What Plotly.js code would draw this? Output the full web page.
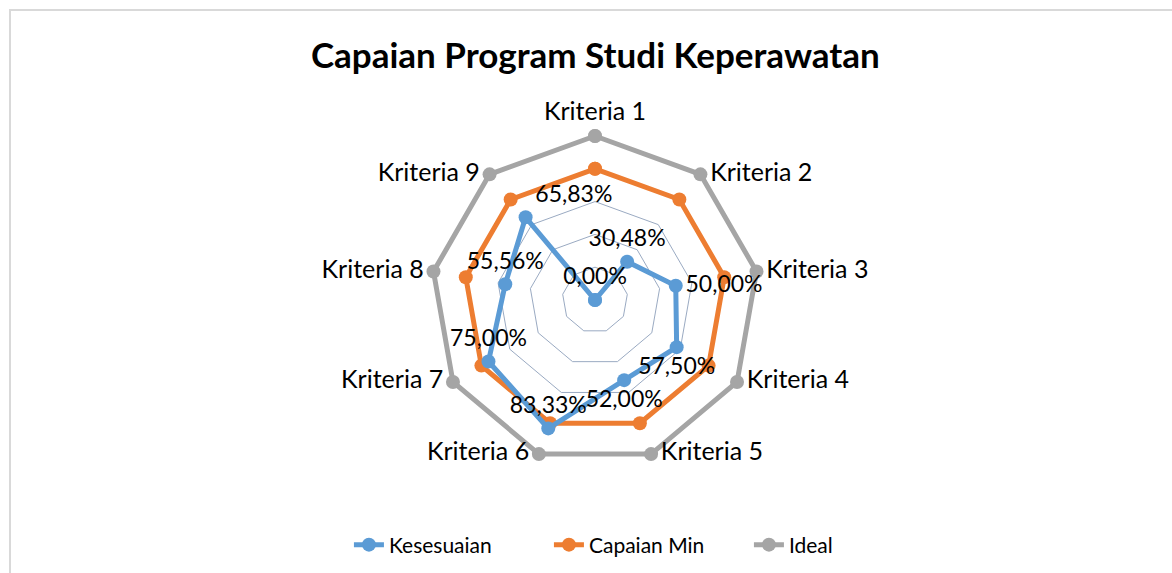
<!DOCTYPE html>
<html>
<head>
<meta charset="utf-8">
<script src="https://cdn.plot.ly/plotly-3.0.1.min.js"></script>
<style>
  html, body { margin: 0; padding: 0; background: #ffffff; overflow: hidden; }
  #chart { width: 1172px; height: 573px; position: absolute; left: 0; top: 0; }
  #frame { position: absolute; left: 9px; top: 9px; width: 1300px; height: 700px;
           border-left: 2px solid #d9d9d9; border-top: 2px solid #d9d9d9; pointer-events: none; }
</style>
</head>
<body>
<div id="chart"></div>
<div id="frame"></div>
<script>
const categories = ["Kriteria 1","Kriteria 2","Kriteria 3","Kriteria 4","Kriteria 5","Kriteria 6","Kriteria 7","Kriteria 8","Kriteria 9"];
const kesesuaian = [0.0000, 0.3048, 0.5000, 0.5750, 0.5200, 0.8333, 0.7500, 0.5556, 0.6583];
const capaianMin = [0.8, 0.8, 0.8, 0.8, 0.8, 0.8, 0.8, 0.8, 0.8];
const ideal = [1, 1, 1, 1, 1, 1, 1, 1, 1];
const seriesNames = ["Kesesuaian", "Capaian Min", "Ideal"];
const colors = ["#5b9bd5", "#ed7d31", "#a5a5a5"];
const labelPositions = ["top center","top center","middle right","bottom center","bottom center","top center","top center","top center","top right"];
const categoryLabelPositions = ["top center","middle right","middle right","middle right","middle right","middle left","middle left","middle left","middle left"];

function fmt(v) {
  return (v * 100).toFixed(2).replace(".", ",") + "%";
}
function closed(a) { return a.concat([a[0]]); }
function openText(a) { return closed(a).map((t, i) => i < a.length ? t : ""); }

const font = "Lato, 'Open Sans', sans-serif";

const traces = [
  {
    type: "scatterpolar", name: seriesNames[2], subplot: "polar",
    r: closed(ideal), theta: closed(categories),
    mode: "lines+markers+text",
    cliponaxis: false,
    text: openText(categories),
    textposition: closed(categoryLabelPositions),
    textfont: { family: font, size: 25, color: "#000000" },
    line: { color: colors[2], width: 5 },
    marker: { color: colors[2], size: 14 },
    hoverinfo: "skip"
  },
  {
    type: "scatterpolar", name: seriesNames[1], subplot: "polar",
    r: closed(capaianMin), theta: closed(categories),
    mode: "lines+markers",
    cliponaxis: false,
    line: { color: colors[1], width: 5 },
    marker: { color: colors[1], size: 14 },
    hoverinfo: "skip"
  },
  {
    type: "scatterpolar", name: seriesNames[0], subplot: "polar2",
    r: closed(kesesuaian), theta: closed(categories),
    mode: "lines+markers+text",
    cliponaxis: false,
    text: openText(kesesuaian.map(fmt)),
    textposition: closed(labelPositions),
    textfont: { family: font, size: 23, color: "#000000" },
    line: { color: colors[0], width: 5 },
    marker: { color: colors[0], size: 14 },
    hoverinfo: "skip"
  }
];

const W = 1172, H = 573;
const cx = 595, cy = 300;
const rMin = 0, rMax = 1.05;
const R = 164 * (rMax - rMin) / (1 - rMin);
const domain = { x: [(cx - R) / W, (cx + R) / W], y: [(H - cy - R) / H, (H - cy + R) / H] };

const layout = {
  width: W, height: H,
  margin: { l: 0, r: 0, t: 0, b: 0 },
  paper_bgcolor: "#ffffff",
  plot_bgcolor: "#ffffff",
  showlegend: true,
  title: {
    text: "<b>Capaian Program Studi Keperawatan</b>",
    font: { family: font, size: 35, color: "#000000" },
    x: 0.508, xanchor: "center",
    y: 1 - 56 / H, yanchor: "middle"
  },
  legend: {
    orientation: "h",
    x: 0.5537, xanchor: "center",
    y: 1 - 545 / H, yanchor: "middle",
    font: { family: font, size: 21, color: "#000000" },
    traceorder: "reversed",
    entrywidth: 155, entrywidthmode: "pixels",
    itemclick: false
  },
  polar: {
    domain: domain,
    bgcolor: "rgba(0,0,0,0)",
    gridshape: "linear",
    radialaxis: {
      range: [rMin, rMax], dtick: 0.2, tick0: 0,
      showticklabels: false, ticks: "",
      showline: false,
      showgrid: true, gridcolor: "#9aaac2", gridwidth: 1
    },
    angularaxis: {
      rotation: 90, direction: "clockwise",
      categoryorder: "array", categoryarray: categories,
      showline: false, showgrid: false, ticks: "",
      showticklabels: false
    }
  },
  polar2: {
    domain: domain,
    bgcolor: "rgba(0,0,0,0)",
    gridshape: "circular",
    radialaxis: {
      range: [rMin, rMax],
      showticklabels: false, ticks: "",
      showline: false, showgrid: false
    },
    angularaxis: {
      rotation: 90, direction: "clockwise",
      categoryorder: "array", categoryarray: categories,
      showline: false, showgrid: false, ticks: "",
      showticklabels: false
    }
  }
};

Plotly.newPlot("chart", traces, layout, { staticPlot: true, displayModeBar: false });
</script>
</body>
</html>
